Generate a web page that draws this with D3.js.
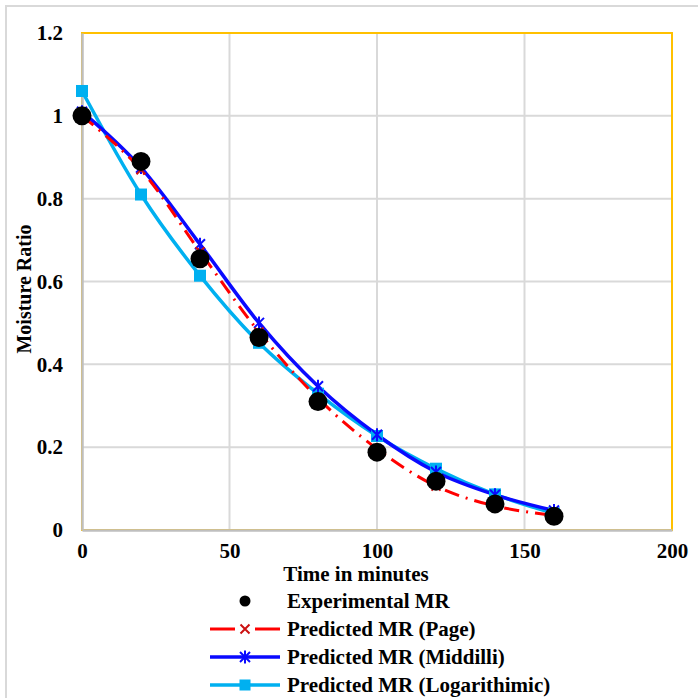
<!DOCTYPE html>
<html>
<head>
<meta charset="utf-8">
<script src="https://cdn.jsdelivr.net/npm/d3@7"></script>
<style>
  body { margin: 0; background: #fff; }
  text { font-family: "Liberation Serif", "Times New Roman", serif; font-weight: bold; fill: #000; }
</style>
</head>
<body>
<div id="canvas"></div>
<script>
// data
let times = [0, 20, 40, 60, 80, 100, 120, 140, 160]
let experimental = [1.0, 0.89, 0.655, 0.465, 0.31, 0.188, 0.118, 0.063, 0.033]
let page = [1.0, 0.87, 0.672, 0.478, 0.318, 0.196, 0.106, 0.058, 0.035]
let middilli = [1.01, 0.875, 0.69, 0.5, 0.347, 0.23, 0.14, 0.085, 0.047]
let logarithmic = [1.06, 0.81, 0.614, 0.452, 0.329, 0.227, 0.148, 0.086, 0.04]
let xTicks = [0, 50, 100, 150, 200]
let yTicks = [0, 0.2, 0.4, 0.6, 0.8, 1, 1.2]
let legendLabels = ['Experimental MR', 'Predicted MR (Page)', 'Predicted MR (Middilli)', 'Predicted MR (Logarithimic)']

let width = 698
let height = 698
let pLeft = 82, pRight = 672, pTop = 33, pBottom = 530
let fontSize = 21

let svg = d3.select('#canvas').append('svg')
    .attr('width', width)
    .attr('height', height)

// outer chart border
svg.append('rect')
    .attr('x', 6).attr('y', 6)
    .attr('width', 720).attr('height', 720)
    .attr('fill', 'none')
    .attr('stroke', '#d9d9d9')
    .attr('stroke-width', 2)

let x = d3.scaleLinear().domain([0, 200]).range([pLeft, pRight])
let y = d3.scaleLinear().domain([0, 1.2]).range([pBottom, pTop])

// gridlines
svg.append('g')
    .selectAll('line')
    .data(xTicks.slice(1, -1))
    .enter()
    .append('line')
    .attr('x1', (d) => x(d)).attr('x2', (d) => x(d))
    .attr('y1', pTop).attr('y2', pBottom)
    .attr('stroke', '#d9d9d9')
    .attr('stroke-width', 2)

svg.append('g')
    .selectAll('line')
    .data(yTicks.slice(1, -1))
    .enter()
    .append('line')
    .attr('x1', pLeft).attr('x2', pRight)
    .attr('y1', (d) => y(d)).attr('y2', (d) => y(d))
    .attr('stroke', '#d9d9d9')
    .attr('stroke-width', 2)

// plot area border (gold)
svg.append('rect')
    .attr('x', pLeft).attr('y', pTop)
    .attr('width', pRight - pLeft).attr('height', pBottom - pTop)
    .attr('fill', 'none')
    .attr('stroke', '#ffc000')
    .attr('stroke-width', 2)

// axes
let xAxis = d3.axisBottom(x).tickValues(xTicks).tickSize(0).tickPadding(13)
let yAxis = d3.axisLeft(y).tickValues(yTicks).tickSize(0).tickPadding(19)
    .tickFormat((d) => String(+d.toFixed(1)))

let gx = svg.append('g').attr('transform', 'translate(0,' + pBottom + ')').call(xAxis)
let gy = svg.append('g').attr('transform', 'translate(' + pLeft + ',0)').call(yAxis)

for (let g of [gx, gy]) {
    g.select('.domain').attr('stroke', '#bfbfbf').attr('stroke-width', 2.5)
    g.selectAll('text')
        .attr('font-family', '"Liberation Serif", serif')
        .attr('font-weight', 'bold')
        .attr('font-size', fontSize)
        .attr('fill', '#000')
}

// axis titles
svg.append('text')
    .attr('x', 356).attr('y', 581)
    .attr('text-anchor', 'middle')
    .attr('font-size', fontSize)
    .text('Time in minutes')

svg.append('text')
    .attr('transform', 'translate(31,' + 289 + ') rotate(-90)')
    .attr('text-anchor', 'middle')
    .attr('font-size', 20)
    .text('Moisture Ratio')

// series
let curve = d3.curveCatmullRom.alpha(0)
let lineFor = function (vals) {
    return d3.line()
        .x((d, i) => x(times[i]))
        .y((d) => y(d))
        .curve(curve)(vals)
}

let series = [
    { key: 'log', vals: logarithmic, color: '#00b0f0', width: 3.5, dash: null },
    { key: 'mid', vals: middilli, color: '#0a0aff', width: 3.5, dash: null },
    { key: 'page', vals: page, color: '#ff0000', width: 3, dash: '15,7,2,7' }
]

let plot = svg.append('g')

series.forEach(function (s) {
    plot.append('path')
        .attr('d', lineFor(s.vals))
        .attr('fill', 'none')
        .attr('stroke', s.color)
        .attr('stroke-width', s.width)
        .attr('stroke-dasharray', s.dash)
})

// markers
let drawSquare = function (g, cx, cy, sz, color) {
    g.append('rect')
        .attr('x', cx - sz / 2).attr('y', cy - sz / 2)
        .attr('width', sz).attr('height', sz)
        .attr('fill', color)
}

let drawCross = function (g, cx, cy, sz, color, star) {
    let p = d3.path()
    p.moveTo(cx - sz, cy - sz); p.lineTo(cx + sz, cy + sz)
    p.moveTo(cx - sz, cy + sz); p.lineTo(cx + sz, cy - sz)
    if (star) {
        p.moveTo(cx, cy - sz * 1.3); p.lineTo(cx, cy + sz * 1.3)
    }
    g.append('path')
        .attr('d', p.toString())
        .attr('stroke', color)
        .attr('stroke-width', 2)
        .attr('fill', 'none')
}

logarithmic.forEach((v, i) => drawSquare(plot, x(times[i]), y(v), 12, '#00b0f0'))
middilli.forEach((v, i) => drawCross(plot, x(times[i]), y(v), 5, '#0a0aff', true))
page.forEach((v, i) => drawCross(plot, x(times[i]), y(v), 4.5, '#cc1111', false))

plot.selectAll('circle')
    .data(experimental)
    .enter()
    .append('circle')
    .attr('cx', (d, i) => x(times[i]))
    .attr('cy', (d) => y(d))
    .attr('r', 9.5)
    .attr('fill', '#000')

// legend
let legY = [601, 629, 657, 685]
let lx0 = 210, lx1 = 280, lmid = 245
let leg = svg.append('g')

leg.append('circle').attr('cx', lmid).attr('cy', legY[0]).attr('r', 5.5).attr('fill', '#000')

leg.append('line').attr('x1', lx0).attr('x2', lmid - 10).attr('y1', legY[1]).attr('y2', legY[1])
    .attr('stroke', '#ff0000').attr('stroke-width', 3)
leg.append('line').attr('x1', lmid + 10).attr('x2', lx1).attr('y1', legY[1]).attr('y2', legY[1])
    .attr('stroke', '#ff0000').attr('stroke-width', 3)
drawCross(leg, lmid, legY[1], 4.5, '#cc1111', false)

leg.append('line').attr('x1', lx0).attr('x2', lx1).attr('y1', legY[2]).attr('y2', legY[2])
    .attr('stroke', '#0a0aff').attr('stroke-width', 3.5)
drawCross(leg, lmid, legY[2], 5, '#0a0aff', true)

leg.append('line').attr('x1', lx0).attr('x2', lx1).attr('y1', legY[3]).attr('y2', legY[3])
    .attr('stroke', '#00b0f0').attr('stroke-width', 3.5)
drawSquare(leg, lmid, legY[3], 11, '#00b0f0')

leg.selectAll('text')
    .data(legendLabels)
    .enter()
    .append('text')
    .attr('x', 287)
    .attr('y', (d, i) => legY[i])
    .attr('dy', '0.35em')
    .attr('font-size', fontSize)
    .text((d) => d)
</script>
</body>
</html>
